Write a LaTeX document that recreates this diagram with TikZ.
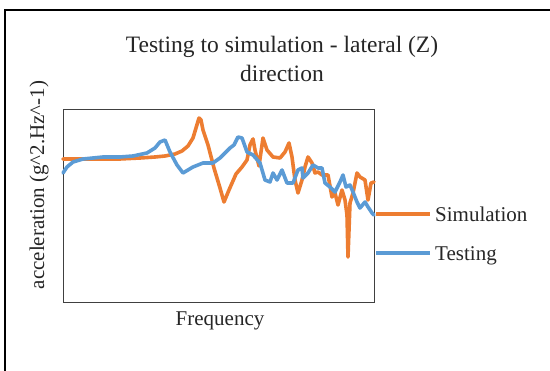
\documentclass[tikz,border=0pt]{standalone}
\usepackage{fontspec}
\setmainfont{Liberation Serif}
\definecolor{simorange}{HTML}{ED7D31}
\definecolor{testblue}{HTML}{5B9BD5}
\definecolor{axisgray}{HTML}{404040}
\tikzset{
  series/.style={line width=3.6pt, line join=round, line cap=round},
  simline/.style={series, simorange},
  testline/.style={series, testblue},
  label/.style={inner sep=0pt, text=black!85, font=\fontsize{21}{24}\selectfont},
}
\begin{document}
\begin{tikzpicture}[x=1pt, y=-1pt]
  \useasboundingbox (0,0) rectangle (550,371);
  \fill[white] (0,0) rectangle (550,371);
  % chart frame (open towards right and bottom)
  \draw[line width=2.4pt, black] (5,375) -- (5,10) -- (555,10);

  % title
  \node[label, font=\fontsize{23.5}{29}\selectfont, align=center] (title) at (282,59)
    {Testing to simulation - lateral (Z)\\ direction};

  % plot area
  \node[draw=axisgray, line width=1.1pt, minimum width=311pt, minimum height=193pt,
        inner sep=0pt, anchor=north west] (plot) at (63,109) {};

  % axis titles
  \node[label, rotate=90] (ylab) at (39,185) {acceleration (g\^{}2.Hz\^{}-1)};
  \node[label] (xlab) at (220,321) {Frequency};

  % simulation series
  \draw[simline] (63,159) -- (90,159) -- (120,159) -- (140,158) -- (155,157) -- (165,156)
    -- (175,154) -- (182,151) -- (188,146) -- (193,138) -- (196,128) -- (199,118)
    -- (201,120) -- (203,130) -- (208,145) -- (214,168) -- (220,188) -- (224,202)
    -- (229,190) -- (236,174) -- (242,167) -- (247,160) -- (250,145) -- (253,139)
    -- (255,150) -- (259,166) -- (263,138) -- (267,150) -- (273,157) -- (280,158)
    -- (285,152) -- (289,143) -- (292,157) -- (295,180) -- (298,193) -- (302,180)
    -- (305,167) -- (308,157) -- (312,163) -- (315,173) -- (318,172) -- (322,175)
    -- (328,175) -- (332,197) -- (335,193) -- (338,205) -- (342,190) -- (345,200)
    -- (347,215) -- (348,257) -- (350,203) -- (353,193) -- (357,173) -- (360,177)
    -- (365,180) -- (368,200) -- (371,183) -- (374,182);

  % testing series
  \draw[testline] (63,173) -- (67,167) -- (73,162) -- (83,159) -- (93,158) -- (103,157)
    -- (120,157) -- (133,156) -- (147,153) -- (155,148) -- (160,142) -- (165,140)
    -- (170,152) -- (177,165) -- (183,173) -- (193,167) -- (203,163) -- (213,163)
    -- (220,158) -- (230,148) -- (234,145) -- (238,137) -- (242,138) -- (247,152)
    -- (253,155) -- (260,163) -- (265,180) -- (270,182) -- (273,173) -- (277,180)
    -- (282,170) -- (287,183) -- (293,183) -- (298,170) -- (302,168) -- (303,178)
    -- (308,173) -- (313,165) -- (318,168) -- (322,168) -- (325,183) -- (330,187)
    -- (335,192) -- (340,182) -- (343,175) -- (346,187) -- (350,185) -- (353,192)
    -- (357,202) -- (360,208) -- (365,202) -- (368,207) -- (372,213) -- (374,215);

  % legend
  \node[label, anchor=west] (simkeytxt) at (435,214) {Simulation};
  \node[label, anchor=west] (testkeytxt) at (435,256) {Testing};
  \coordinate (simkey) at (376,214);
  \coordinate (testkey) at (376,253);
  \draw[series, simorange, line cap=butt] (simkey) -- ([xshift=-5pt]simkeytxt.west);
  \draw[series, testblue, line cap=butt] (testkey) -- ([xshift=-5pt]testkeytxt.west |- testkey);
\end{tikzpicture}
\end{document}
